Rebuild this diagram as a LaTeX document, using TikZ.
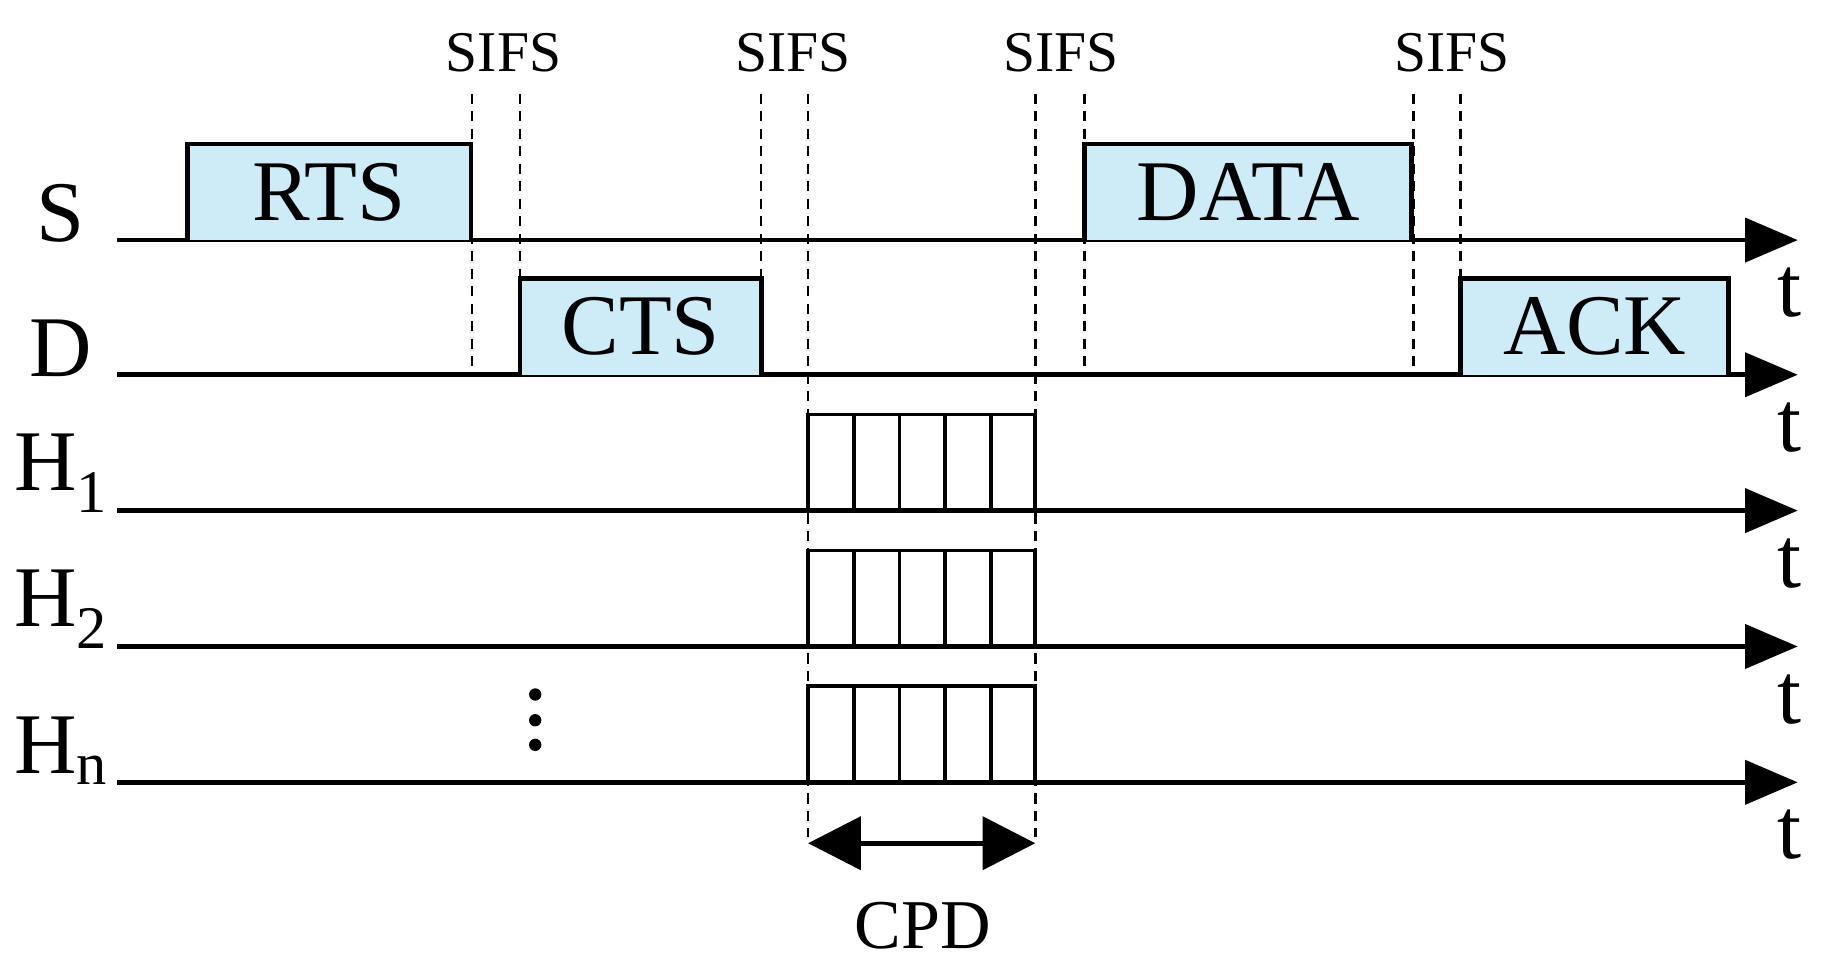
\documentclass[tikz,border=0pt]{standalone}
\usepackage{fontspec}
\setmainfont{Liberation Serif}
\usetikzlibrary{arrows.meta}
\definecolor{pktblue}{RGB}{205,236,248}
\begin{document}
\begin{tikzpicture}[x=0.02cm,y=-0.02cm,
  axis/.style={line width=2.2pt,-{Triangle[length=0.9cm,width=0.75cm]}},
  pkt/.style={line width=2.2pt,fill=pktblue},
  slot/.style={line width=1.8pt},
  guide/.style={line width=1.2pt,dash pattern=on 5pt off 3.5pt},
  lbl/.style={font=\fontsize{42}{42}\selectfont},
  small/.style={font=\fontsize{28}{28}\selectfont}]
  \useasboundingbox (0,0) rectangle (1560,830);

  % time axes
  \foreach \name/\y/\txt in {S/205/S,D/320/D,Ha/436/H\textsubscript{1},Hb/552/H\textsubscript{2},Hn/668/H\textsubscript{n}}{
    \coordinate (\name0) at (100,\y);
    \coordinate (\name1) at (1535,\y);
    \draw[axis] (\name0) -- (\name1);
    \node[lbl,anchor=south] (lab\name) at (52,\y+8) {\txt};
    \node[lbl] (t\name) at (1528,\y+45) {t};
  }

  % packets
  \draw[pkt] (160,205) |- (402,123) -- (402,205);
  \node[lbl] (rts) at (281,164) {RTS};
  \draw[pkt] (444,320) |- (650,238) -- (650,320);
  \node[lbl] (cts) at (547,279) {CTS};
  \draw[pkt] (926,205) |- (1205,123) -- (1205,205);
  \node[lbl] (data) at (1066,164) {DATA};
  \draw[pkt] (1247,320) |- (1476,238) -- (1476,320);
  \node[lbl] (ack) at (1362,279) {ACK};

  % SIFS guides
  \foreach \x/\yb in {403/320,444/238,650/238,690/715,884/715,926/320,1207/320,1247/238}
    \draw[guide] (\x,80) -- (\x,\yb);
  \foreach \x/\n in {430/1,677/2,906/3,1240/4}
    \node[small] (sifs\n) at (\x,45) {SIFS};

  % contention slots
  \foreach \yb in {436,552,668}{
    \draw[slot] (690,\yb) |- (884,\yb-82) -- (884,\yb);
    \foreach \x in {729,768,807,846}
      \draw[slot] (\x,\yb) -- (\x,\yb-82);
  }
  \foreach \y in {593,615,636}
    \fill (457,\y) circle (3pt);

  \coordinate (cpdl) at (690,720);
  \coordinate (cpdr) at (884,720);
  \draw[line width=2.5pt,{Triangle[length=0.9cm,width=0.9cm]}-{Triangle[length=0.9cm,width=0.9cm]}] (cpdl) -- (cpdr);
  \node[small,font=\fontsize{34}{34}\selectfont] (cpd) at (788,790) {CPD};
\end{tikzpicture}
\end{document}
